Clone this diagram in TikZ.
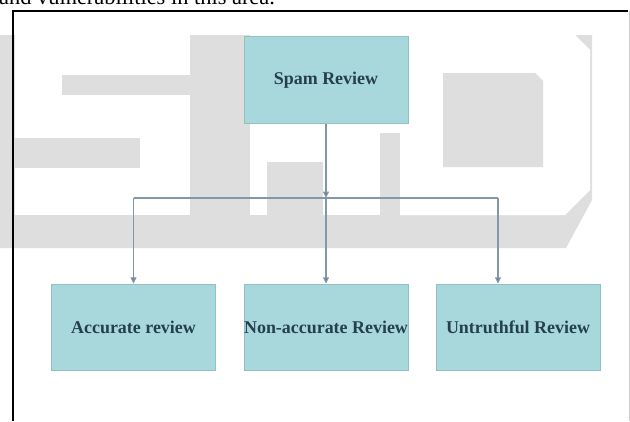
\documentclass[tikz,border=0pt]{standalone}
\usepackage{fontspec}
\setmainfont{Liberation Serif}
\usetikzlibrary{arrows.meta}

\definecolor{boxfill}{HTML}{A8D8DB}
\definecolor{boxline}{HTML}{8FC0C4}
\definecolor{boxtext}{HTML}{24404E}
\definecolor{wire}{HTML}{8497A6}
\definecolor{wiretip}{HTML}{6F808E}
\definecolor{mark}{HTML}{DEDEDE}

\tikzset{
  cat/.style={draw=boxline, line width=1bp, fill=boxfill,
    minimum width=164bp, minimum height=86.5bp, inner sep=0pt,
    font=\bfseries\fontsize{18}{21}\selectfont, text=boxtext},
  link/.style={draw=wire, line width=1.1bp},
  tipped/.style={-{Triangle[length=6.5bp,width=6bp,fill=wiretip]}},
  shade/.style={fill=mark},
  cutout/.style={fill=white}
}

\begin{document}
\begin{tikzpicture}[x=1bp,y=-1bp]
\useasboundingbox (0,0) rectangle (630,421);
\clip (0,0) rectangle (630,421);

% background watermark: grey band with white letters
\fill[shade] (0,35) -- (592,35) -- (592,200) -- (566,248) -- (0,248) -- cycle;
% letter S
\fill[cutout] (15,35) rectangle (190,75);
\fill[cutout] (15,75) rectangle (62,95);
\fill[cutout] (15,95) rectangle (190,138);
\fill[cutout] (140,138) rectangle (190,168);
\fill[cutout] (15,168) rectangle (190,215);
% middle letter
\fill[cutout] (250,35) rectangle (380,162);
\fill[cutout] (250,162) rectangle (267,215);
\fill[cutout] (323,162) rectangle (380,215);
\fill[cutout] (380,35) rectangle (400,133);
% letter D
\fill[cutout] (400,35) -- (575,35) -- (590,50) -- (590,190) -- (565,215) -- (400,215) -- cycle;
\fill[shade] (443,73) -- (535,73) -- (543,81) -- (543,167) -- (443,167) -- cycle;

% running text above the frame
\node[anchor=base west, inner sep=0pt, font=\fontsize{22.5}{27}\selectfont] (lead) at (-1,4.5) {and vulnerabilities in this area.};

% frame
\draw[black, line width=2bp] (12.5,421) -- (12.5,10.5) -- (628,10.5);
\draw[black!20, line width=1bp] (629,10.5) -- (629,421);

% categories
\node[cat] (spam)   at (326,80)    {Spam Review};
\node[cat] (acc)    at (133.5,327.5) {Accurate review};
\node[cat] (nonacc) at (326,327.5) {Non-accurate Review};
\node[cat] (untr)   at (518,327.5) {Untruthful Review};

% connectors
\coordinate (split) at (326,198);
\coordinate (busL)  at (133.5,198);
\coordinate (busR)  at (498,198);
\draw[link] (busL) -- (busR);
\draw[link, tipped] (spam.south) -- (split);
\draw[link, tipped] (busL) -- (acc.north);
\draw[link, tipped] (split) -- (nonacc.north);
\draw[link, tipped] (busR) -- (busR |- untr.north);
\end{tikzpicture}
\end{document}
